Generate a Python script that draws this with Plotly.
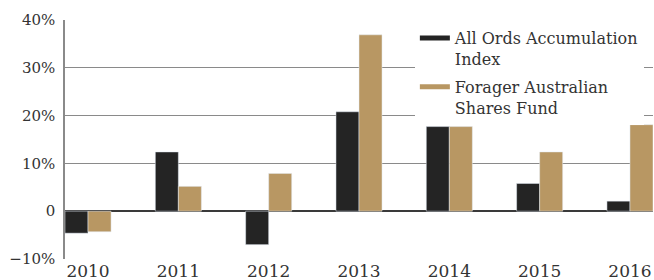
import plotly.graph_objects as go

years = ["2010", "2011", "2012", "2013", "2014", "2015", "2016"]
all_ords = [-4.6, 12.4, -7.0, 20.8, 17.7, 5.8, 2.1]
forager = [-4.3, 5.2, 7.9, 36.9, 17.7, 12.4, 18.1]
tick_vals = [-10, 0, 10, 20, 30, 40]
tick_text = ["\u221210%", "0", "10%", "20%", "30%", "40%"]

BLACK = "#242424"
TAN = "#b89763"
FONT = "DejaVu Serif"

fig = go.Figure()
fig.add_trace(go.Bar(x=years, y=all_ords, marker_color=BLACK, showlegend=False))
fig.add_trace(go.Bar(x=years, y=forager, marker_color=TAN, showlegend=False))
fig.add_trace(go.Scatter(x=[None], y=[None], mode="lines", line=dict(color=BLACK, width=5),
                         name="All Ords Accumulation<br>Index", legendgroup="a"))
fig.add_trace(go.Scatter(x=[None], y=[None], mode="lines", line=dict(color=TAN, width=5),
                         name="Forager Australian<br>Shares Fund", legendgroup="b"))

fig.update_layout(
    width=654, height=280,
    margin=dict(l=65, r=1, t=20, b=21),
    paper_bgcolor="white", plot_bgcolor="white",
    barmode="group", bargap=0.49, bargroupgap=0,
    font=dict(family=FONT, size=15, color="#333333"),
    legend=dict(x=0.595, y=0.995, xanchor="left", yanchor="top",
                bgcolor="white", valign="top", tracegroupgap=4,
                font=dict(family=FONT, size=16, color="#333333")),
    xaxis=dict(type="category", range=[-0.255, 6.255], showgrid=False,
               showline=False, ticks="", tickfont=dict(size=17),
               automargin=False, ticklabelstandoff=0),
    yaxis=dict(range=[-10, 40], tickvals=tick_vals, ticktext=tick_text,
               showgrid=True, gridcolor="#8a8a8a", gridwidth=1,
               zeroline=True, zerolinecolor="#3a3a3a", zerolinewidth=2,
               showline=True, linecolor="#8a8a8a", linewidth=1.5,
               ticks="", ticklabelstandoff=5, tickfont=dict(size=15),
               automargin=False),
)

fig.write_html("out.html", config={"displayModeBar": False},
               post_script="document.body.style.margin='0';document.body.style.overflow='hidden';")
